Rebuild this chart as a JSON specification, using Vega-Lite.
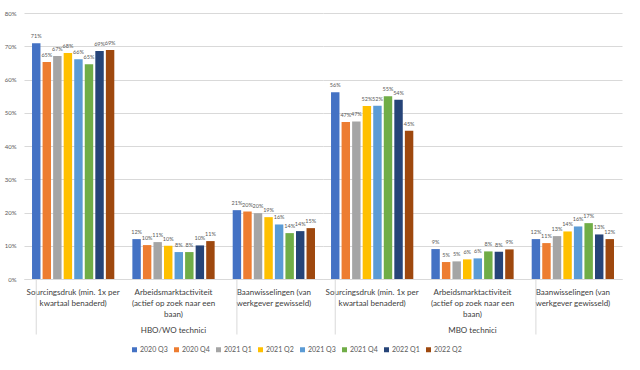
{
  "$schema": "https://vega.github.io/schema/vega-lite/v6.json",
  "padding": {"top": 10, "left": 4, "right": 10, "bottom": 5},
  "background": "white",
  "bounds": "flush",
  "data": {"values": [
    {"group": "HBO/WO technici", "indicator": "Sourcingsdruk (min. 1x per|kwartaal benaderd)", "quarter": "2020 Q3", "value": 0.709},
    {"group": "HBO/WO technici", "indicator": "Sourcingsdruk (min. 1x per|kwartaal benaderd)", "quarter": "2020 Q4", "value": 0.653},
    {"group": "HBO/WO technici", "indicator": "Sourcingsdruk (min. 1x per|kwartaal benaderd)", "quarter": "2021 Q1", "value": 0.671},
    {"group": "HBO/WO technici", "indicator": "Sourcingsdruk (min. 1x per|kwartaal benaderd)", "quarter": "2021 Q2", "value": 0.68},
    {"group": "HBO/WO technici", "indicator": "Sourcingsdruk (min. 1x per|kwartaal benaderd)", "quarter": "2021 Q3", "value": 0.661},
    {"group": "HBO/WO technici", "indicator": "Sourcingsdruk (min. 1x per|kwartaal benaderd)", "quarter": "2021 Q4", "value": 0.646},
    {"group": "HBO/WO technici", "indicator": "Sourcingsdruk (min. 1x per|kwartaal benaderd)", "quarter": "2022 Q1", "value": 0.686},
    {"group": "HBO/WO technici", "indicator": "Sourcingsdruk (min. 1x per|kwartaal benaderd)", "quarter": "2022 Q2", "value": 0.689},
    {"group": "HBO/WO technici", "indicator": "Arbeidsmarktactiviteit|(actief op zoek naar een|baan)", "quarter": "2020 Q3", "value": 0.12},
    {"group": "HBO/WO technici", "indicator": "Arbeidsmarktactiviteit|(actief op zoek naar een|baan)", "quarter": "2020 Q4", "value": 0.102},
    {"group": "HBO/WO technici", "indicator": "Arbeidsmarktactiviteit|(actief op zoek naar een|baan)", "quarter": "2021 Q1", "value": 0.111},
    {"group": "HBO/WO technici", "indicator": "Arbeidsmarktactiviteit|(actief op zoek naar een|baan)", "quarter": "2021 Q2", "value": 0.1},
    {"group": "HBO/WO technici", "indicator": "Arbeidsmarktactiviteit|(actief op zoek naar een|baan)", "quarter": "2021 Q3", "value": 0.081},
    {"group": "HBO/WO technici", "indicator": "Arbeidsmarktactiviteit|(actief op zoek naar een|baan)", "quarter": "2021 Q4", "value": 0.081},
    {"group": "HBO/WO technici", "indicator": "Arbeidsmarktactiviteit|(actief op zoek naar een|baan)", "quarter": "2022 Q1", "value": 0.101},
    {"group": "HBO/WO technici", "indicator": "Arbeidsmarktactiviteit|(actief op zoek naar een|baan)", "quarter": "2022 Q2", "value": 0.114},
    {"group": "HBO/WO technici", "indicator": "Baanwisselingen (van|werkgever gewisseld)", "quarter": "2020 Q3", "value": 0.207},
    {"group": "HBO/WO technici", "indicator": "Baanwisselingen (van|werkgever gewisseld)", "quarter": "2020 Q4", "value": 0.203},
    {"group": "HBO/WO technici", "indicator": "Baanwisselingen (van|werkgever gewisseld)", "quarter": "2021 Q1", "value": 0.198},
    {"group": "HBO/WO technici", "indicator": "Baanwisselingen (van|werkgever gewisseld)", "quarter": "2021 Q2", "value": 0.186},
    {"group": "HBO/WO technici", "indicator": "Baanwisselingen (van|werkgever gewisseld)", "quarter": "2021 Q3", "value": 0.164},
    {"group": "HBO/WO technici", "indicator": "Baanwisselingen (van|werkgever gewisseld)", "quarter": "2021 Q4", "value": 0.138},
    {"group": "HBO/WO technici", "indicator": "Baanwisselingen (van|werkgever gewisseld)", "quarter": "2022 Q1", "value": 0.144},
    {"group": "HBO/WO technici", "indicator": "Baanwisselingen (van|werkgever gewisseld)", "quarter": "2022 Q2", "value": 0.153},
    {"group": "MBO technici", "indicator": "Sourcingsdruk (min. 1x per|kwartaal benaderd)", "quarter": "2020 Q3", "value": 0.562},
    {"group": "MBO technici", "indicator": "Sourcingsdruk (min. 1x per|kwartaal benaderd)", "quarter": "2020 Q4", "value": 0.472},
    {"group": "MBO technici", "indicator": "Sourcingsdruk (min. 1x per|kwartaal benaderd)", "quarter": "2021 Q1", "value": 0.474},
    {"group": "MBO technici", "indicator": "Sourcingsdruk (min. 1x per|kwartaal benaderd)", "quarter": "2021 Q2", "value": 0.52},
    {"group": "MBO technici", "indicator": "Sourcingsdruk (min. 1x per|kwartaal benaderd)", "quarter": "2021 Q3", "value": 0.521},
    {"group": "MBO technici", "indicator": "Sourcingsdruk (min. 1x per|kwartaal benaderd)", "quarter": "2021 Q4", "value": 0.55},
    {"group": "MBO technici", "indicator": "Sourcingsdruk (min. 1x per|kwartaal benaderd)", "quarter": "2022 Q1", "value": 0.539},
    {"group": "MBO technici", "indicator": "Sourcingsdruk (min. 1x per|kwartaal benaderd)", "quarter": "2022 Q2", "value": 0.446},
    {"group": "MBO technici", "indicator": "Arbeidsmarktactiviteit|(actief op zoek naar een|baan)", "quarter": "2020 Q3", "value": 0.09},
    {"group": "MBO technici", "indicator": "Arbeidsmarktactiviteit|(actief op zoek naar een|baan)", "quarter": "2020 Q4", "value": 0.051},
    {"group": "MBO technici", "indicator": "Arbeidsmarktactiviteit|(actief op zoek naar een|baan)", "quarter": "2021 Q1", "value": 0.053},
    {"group": "MBO technici", "indicator": "Arbeidsmarktactiviteit|(actief op zoek naar een|baan)", "quarter": "2021 Q2", "value": 0.059},
    {"group": "MBO technici", "indicator": "Arbeidsmarktactiviteit|(actief op zoek naar een|baan)", "quarter": "2021 Q3", "value": 0.062},
    {"group": "MBO technici", "indicator": "Arbeidsmarktactiviteit|(actief op zoek naar een|baan)", "quarter": "2021 Q4", "value": 0.083},
    {"group": "MBO technici", "indicator": "Arbeidsmarktactiviteit|(actief op zoek naar een|baan)", "quarter": "2022 Q1", "value": 0.082},
    {"group": "MBO technici", "indicator": "Arbeidsmarktactiviteit|(actief op zoek naar een|baan)", "quarter": "2022 Q2", "value": 0.089},
    {"group": "MBO technici", "indicator": "Baanwisselingen (van|werkgever gewisseld)", "quarter": "2020 Q3", "value": 0.12},
    {"group": "MBO technici", "indicator": "Baanwisselingen (van|werkgever gewisseld)", "quarter": "2020 Q4", "value": 0.108},
    {"group": "MBO technici", "indicator": "Baanwisselingen (van|werkgever gewisseld)", "quarter": "2021 Q1", "value": 0.129},
    {"group": "MBO technici", "indicator": "Baanwisselingen (van|werkgever gewisseld)", "quarter": "2021 Q2", "value": 0.143},
    {"group": "MBO technici", "indicator": "Baanwisselingen (van|werkgever gewisseld)", "quarter": "2021 Q3", "value": 0.158},
    {"group": "MBO technici", "indicator": "Baanwisselingen (van|werkgever gewisseld)", "quarter": "2021 Q4", "value": 0.168},
    {"group": "MBO technici", "indicator": "Baanwisselingen (van|werkgever gewisseld)", "quarter": "2022 Q1", "value": 0.134},
    {"group": "MBO technici", "indicator": "Baanwisselingen (van|werkgever gewisseld)", "quarter": "2022 Q2", "value": 0.12}
  ]},
  "facet": {
    "column": {
      "field": "group", "type": "nominal",
      "sort": ["HBO/WO technici", "MBO technici"],
      "header": {"title": null, "labelOrient": "bottom", "labelFontSize": 8, "labelColor": "#404040", "labelPadding": 9}
    }
  },
  "spacing": 0,
  "spec": {
    "width": 299,
    "height": 266,
    "encoding": {
      "x": {
        "field": "indicator", "type": "nominal",
        "sort": ["Sourcingsdruk (min. 1x per|kwartaal benaderd)", "Arbeidsmarktactiviteit|(actief op zoek naar een|baan)", "Baanwisselingen (van|werkgever gewisseld)"],
        "scale": {"paddingInner": 0.18, "paddingOuter": 0.08},
        "axis": {"title": null, "labelAngle": 0, "labelExpr": "split(datum.value, '|')", "labelFontSize": 8, "labelColor": "#404040", "labelLineHeight": 11, "ticks": false, "domainColor": "#d9d9d9", "labelPadding": 9}
      },
      "xOffset": {"field": "quarter", "type": "nominal", "sort": ["2020 Q3", "2020 Q4", "2021 Q1", "2021 Q2", "2021 Q3", "2021 Q4", "2022 Q1", "2022 Q2"], "scale": {"paddingInner": 0.2}},
      "y": {
        "field": "value", "type": "quantitative",
        "scale": {"domain": [0, 0.8]},
        "axis": {"title": null, "format": ".0%", "values": [0, 0.1, 0.2, 0.3, 0.4, 0.5, 0.6, 0.7, 0.8], "labelFontSize": 6, "labelColor": "#595959", "ticks": false, "domain": false, "gridColor": "#d9d9d9", "labelPadding": 8}
      }
    },
    "layer": [
      {
        "mark": {"type": "bar"},
        "encoding": {
          "color": {
            "field": "quarter", "type": "nominal",
            "sort": ["2020 Q3", "2020 Q4", "2021 Q1", "2021 Q2", "2021 Q3", "2021 Q4", "2022 Q1", "2022 Q2"],
            "scale": {"range": ["#4472C4", "#ED7D31", "#A5A5A5", "#FFC000", "#5B9BD5", "#70AD47", "#264478", "#9E480E"]},
            "legend": {"title": null, "orient": "none", "legendX": 107, "legendY": 333, "direction": "horizontal", "symbolType": "square", "symbolSize": 25, "labelFontSize": 7, "labelColor": "#595959", "columns": 8, "columnPadding": 5, "labelOffset": 2}
          }
        }
      },
      {
        "mark": {"type": "text", "dy": -7, "fontSize": 5.5, "fill": "#595959"},
        "encoding": {"text": {"field": "value", "type": "quantitative", "format": ".0%"}}
      },
      {
        "transform": [{"filter": "datum.quarter == '2020 Q3' && indexof(datum.indicator, 'Sourcingsdruk') == 0"}],
        "mark": {"type": "rule", "color": "#d9d9d9", "strokeWidth": 1, "clip": false},
        "encoding": {
          "x": {"datum": "Sourcingsdruk (min. 1x per|kwartaal benaderd)", "type": "nominal", "bandPosition": -0.0976},
          "y": {"datum": 0},
          "y2": {"datum": -0.167}
        }
      },
      {
        "transform": [{"filter": "datum.quarter == '2020 Q3' && indexof(datum.indicator, 'Baanwisselingen') == 0"}],
        "mark": {"type": "rule", "color": "#d9d9d9", "strokeWidth": 1, "clip": false},
        "encoding": {
          "x": {"datum": "Baanwisselingen (van|werkgever gewisseld)", "type": "nominal", "bandPosition": 1.0976},
          "y": {"datum": 0},
          "y2": {"datum": -0.167}
        }
      }
    ]
  },
  "config": {
    "font": "Lato",
    "view": {"stroke": null}
  }
}
